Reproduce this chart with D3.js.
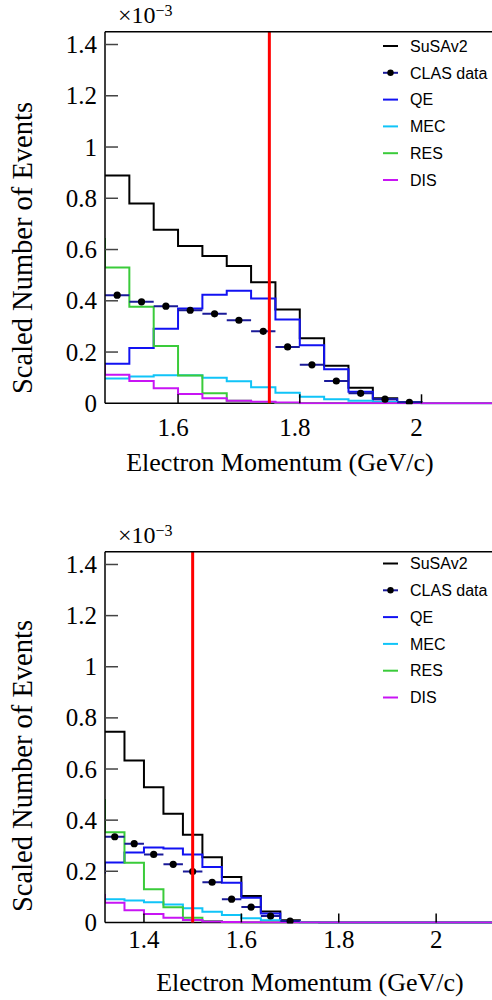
<!DOCTYPE html>
<html>
<head>
<meta charset="utf-8">
<script src="https://cdn.jsdelivr.net/npm/d3@7"></script>
<style>
  html, body { margin: 0; padding: 0; background: #fff; }
  svg { display: block; }
  .serif { font-family: "Liberation Serif", "Times New Roman", serif; fill: #000; }
  .sans { font-family: "Liberation Sans", Arial, sans-serif; fill: #000; }
</style>
</head>
<body>
<svg id="chart" width="492" height="1000"></svg>
<script>
// ---------------- DATA (values in units of 1e-3) ----------------
const binWidth = 0.04;
const seriesNames = ["SuSAv2", "CLAS data", "QE", "MEC", "RES", "DIS"];

// Top panel: bins start at 1.48 GeV/c
const topStart = 1.48;
const topSuSA = [0.889, 0.780, 0.677, 0.614, 0.575, 0.536, 0.472, 0.366, 0.254, 0.147, 0.061, 0.020, 0.004, 0];
const topQE   = [0.154, 0.216, 0.291, 0.370, 0.424, 0.439, 0.409, 0.327, 0.227, 0.133, 0.045, 0.016, 0.003, 0];
const topMEC  = [0.097, 0.105, 0.109, 0.109, 0.100, 0.086, 0.063, 0.041, 0.026, 0.016, 0.010, 0.005, 0.002, 0];
const topRES  = [0.530, 0.377, 0.224, 0.108, 0.039, 0.010, 0.004, 0];
const topDIS  = [0.111, 0.087, 0.059, 0.036, 0.020, 0.010, 0.006, 0.003, 0];
const topData = [0.422, 0.396, 0.379, 0.363, 0.349, 0.324, 0.281, 0.220, 0.150, 0.087, 0.039, 0.016, 0.004];
const topPrev = { RES: 0.645, DIS: 0.150 };   // bin just below the visible range
const topCut = 1.75;

// Bottom panel: bins start at 1.32 GeV/c
const botStart = 1.32;
const botSuSA = [0.746, 0.633, 0.529, 0.425, 0.343, 0.255, 0.178, 0.103, 0.043, 0.008, 0.002, 0];
const botQE   = [0.234, 0.273, 0.293, 0.289, 0.266, 0.217, 0.155, 0.096, 0.035, 0.004, 0.001, 0];
const botMEC  = [0.091, 0.086, 0.079, 0.070, 0.055, 0.042, 0.029, 0.016, 0.008, 0.003, 0];
const botRES  = [0.353, 0.233, 0.130, 0.059, 0.018, 0.005, 0.002, 0];
const botDIS  = [0.077, 0.048, 0.033, 0.018, 0.009, 0.004, 0.002, 0.001, 0];
const botData = [0.335, 0.308, 0.266, 0.227, 0.199, 0.157, 0.091, 0.060, 0.025, 0.005];
const botPrev = { QE: 0.191, RES: 0.483, DIS: 0.111 };
const botCut = 1.50;

const topXTicks = [1.6, 1.8, 2.0];
const botXTicks = [1.4, 1.6, 1.8, 2.0];
const yTicks = [0, 0.2, 0.4, 0.6, 0.8, 1.0, 1.2, 1.4];
const yMax = 1.45;
const xMax = 2.2;

const xTitle = "Electron Momentum (GeV/c)";
const yTitle = "Scaled Number of Events";

// ---------------- STYLE ----------------
const colors = {
  SuSAv2: "#000000",
  "CLAS data": "#1a1a99",
  QE: "#1212f2",
  MEC: "#10c4f8",
  RES: "#3acb3a",
  DIS: "#c814f4",
  cut: "#ff0000"
};

const svg = d3.select("#chart");
const fmt = d => (d === 0 ? "0" : (d === 1 ? "1" : (d === 2 ? "2" : d3.format(".1f")(d))));

function drawPanel(cfg, idx) {
  const left = 105, right = 492;
  const x = d3.scaleLinear().domain([cfg.start, xMax]).range([left, left + (xMax - cfg.start) * cfg.pxPerGeV]);
  const y = d3.scaleLinear().domain([0, yMax]).range([cfg.bottom, cfg.top]);

  const g = svg.append("g");
  const clipId = "clip" + idx;
  svg.append("clipPath").attr("id", clipId)
    .append("rect").attr("x", left).attr("y", cfg.top - 1)
    .attr("width", right - left).attr("height", cfg.bottom - cfg.top + 2);

  // bottom axis line (under histograms)
  g.append("line").attr("x1", left).attr("x2", right).attr("y1", cfg.bottom).attr("y2", cfg.bottom)
    .attr("stroke", "#000").attr("stroke-width", 1.5);

  const plot = g.append("g").attr("clip-path", `url(#${clipId})`);

  const line = d3.line().x(d => x(d[0])).y(d => y(d[1]));
  function histPts(vals, prev) {
    const pts = [];
    if (prev != null) pts.push([cfg.start, prev]);
    vals.forEach((v, i) => {
      pts.push([cfg.start + i * binWidth, v]);
      pts.push([cfg.start + (i + 1) * binWidth, v]);
    });
    pts.push([xMax, vals[vals.length - 1]]);
    return pts;
  }
  const hists = [
    ["SuSAv2", cfg.susa],
    ["QE", cfg.qe],
    ["MEC", cfg.mec],
    ["RES", cfg.res],
    ["DIS", cfg.dis]
  ];

  hists.forEach(([name, vals]) => {
    plot.append("path")
      .datum(histPts(vals, cfg.prev[name]))
      .attr("d", line)
      .attr("fill", "none")
      .attr("stroke", colors[name])
      .attr("stroke-width", 2);
  });

  // data points
  const dataG = plot.append("g");
  cfg.data.forEach((v, i) => {
    const c = cfg.start + (i + 0.5) * binWidth;
    dataG.append("line")
      .attr("x1", x(c - binWidth / 2)).attr("x2", x(c + binWidth / 2))
      .attr("y1", y(v)).attr("y2", y(v))
      .attr("stroke", colors["CLAS data"]).attr("stroke-width", 2);
    dataG.append("circle").attr("cx", x(c)).attr("cy", y(v)).attr("r", 3.6).attr("fill", "#000");
  });

  // cut line
  plot.append("line")
    .attr("x1", x(cfg.cut)).attr("x2", x(cfg.cut))
    .attr("y1", cfg.top).attr("y2", cfg.bottom)
    .attr("stroke", colors.cut).attr("stroke-width", 3);

  // frame: left + top
  g.append("line").attr("x1", left).attr("x2", left).attr("y1", cfg.top).attr("y2", cfg.bottom)
    .attr("stroke", "#000").attr("stroke-width", 1.5);
  g.append("line").attr("x1", left).attr("x2", right).attr("y1", cfg.top).attr("y2", cfg.top)
    .attr("stroke", "#000").attr("stroke-width", 1.5);

  // y axis ticks + labels
  g.selectAll(null).data(yTicks.filter(d => d > 0)).enter().append("line")
    .attr("x1", left).attr("x2", left + 13).attr("y1", d => y(d)).attr("y2", d => y(d))
    .attr("stroke", "#444").attr("stroke-width", 1.5);
  g.selectAll(null).data(yTicks).enter().append("text")
    .attr("class", "serif")
    .attr("x", left - 8).attr("y", d => y(d)).attr("dy", "0.34em")
    .attr("text-anchor", "end").attr("font-size", 25)
    .text(fmt);

  // x axis ticks + labels
  g.selectAll(null).data(cfg.xticks).enter().append("line")
    .attr("x1", d => x(d)).attr("x2", d => x(d)).attr("y1", cfg.bottom).attr("y2", cfg.bottom - 9)
    .attr("stroke", "#000").attr("stroke-width", 1.5);
  g.selectAll(null).data(cfg.xticks).enter().append("text")
    .attr("class", "serif")
    .attr("x", d => x(d) + cfg.xlabelDx).attr("y", cfg.bottom + cfg.xLabelBase)
    .attr("text-anchor", "middle").attr("font-size", 25)
    .text(fmt);

  // exponent label
  const ex = g.append("text").attr("class", "serif").attr("x", 118).attr("y", cfg.top - 9)
    .attr("font-size", 24);
  ex.append("tspan").text("\u00d710");
  ex.append("tspan").attr("dy", -7).attr("font-size", 16).text("\u22123");

  // axis titles
  g.append("text").attr("class", "serif").attr("x", cfg.xTitleX).attr("y", cfg.xTitleY)
    .attr("text-anchor", "middle").attr("font-size", 26)
    .text(xTitle);
  g.append("text").attr("class", "serif")
    .attr("transform", `translate(${32},${cfg.yTitleY}) rotate(-90)`)
    .attr("text-anchor", "middle").attr("font-size", 28.5)
    .text(yTitle);

  // legend
  const lg = g.append("g");
  seriesNames.forEach((name, i) => {
    const yy = cfg.legendTop + i * 26.8;
    lg.append("line").attr("x1", 383).attr("x2", 398).attr("y1", yy).attr("y2", yy)
      .attr("stroke", colors[name]).attr("stroke-width", 2);
    if (name === "CLAS data") {
      lg.append("circle").attr("cx", 390.5).attr("cy", yy).attr("r", 3.2).attr("fill", "#000");
    }
    lg.append("text").attr("class", "sans").attr("x", 410).attr("y", yy).attr("dy", "0.36em")
      .attr("font-size", 16).text(name);
  });
}

drawPanel({
  start: topStart, pxPerGeV: 608.7, top: 31.7, bottom: 403.3,
  susa: topSuSA, qe: topQE, mec: topMEC, res: topRES, dis: topDIS, data: topData,
  prev: topPrev, cut: topCut, xticks: topXTicks, xlabelDx: -5, xLabelBase: 33,
  xTitleX: 280, xTitleY: 471, yTitleY: 248, legendTop: 46
}, 0);

drawPanel({
  start: botStart, pxPerGeV: 487, top: 551.7, bottom: 922.4,
  susa: botSuSA, qe: botQE, mec: botMEC, res: botRES, dis: botDIS, data: botData,
  prev: botPrev, cut: botCut, xticks: botXTicks, xlabelDx: 0, xLabelBase: 26,
  xTitleX: 310, xTitleY: 991, yTitleY: 766, legendTop: 563.5
}, 1);
</script>
</body>
</html>
